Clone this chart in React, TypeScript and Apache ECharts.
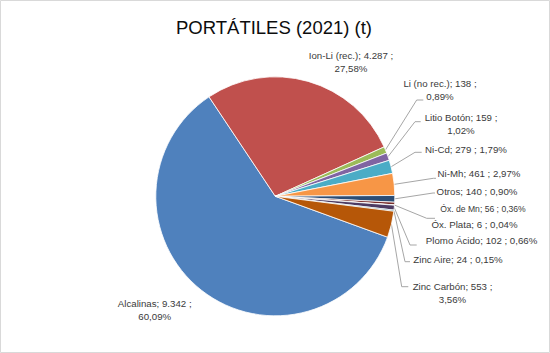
import React, { useEffect, useRef } from "react";
import * as echarts from "echarts";

const TITLE = "PORTÁTILES (2021) (t)";
const categories = [
  "Alcalinas",
  "Ion-Li (rec.)",
  "Li (no rec.)",
  "Litio Botón",
  "Ni-Cd",
  "Ni-Mh",
  "Otros",
  "Óx. de Mn",
  "Óx. Plata",
  "Plomo Ácido",
  "Zinc Aire",
  "Zinc Carbón",
];
const values = [9342, 4287, 138, 159, 279, 461, 140, 56, 6, 102, 24, 553];
// percentages as printed in the source labels
const percents = [60.09, 27.58, 0.89, 1.02, 1.79, 2.97, 0.9, 0.36, 0.04, 0.66, 0.15, 3.56];
const colors = [
  "#4F81BD", "#C0504D", "#9BBB59", "#8064A2", "#4BACC6", "#F79646",
  "#2C4D75", "#772C2A", "#5F7530", "#4D3B62", "#276A7C", "#B65708",
];
// labels broken onto two lines
const twoLine = [0, 1, 2, 3, 11];
// labels without a leader line
const noLeader = [0, 1, 7];

// layout: label centres [x, y]
const labelPos: number[][] = [
  [154.7, 310.3],
  [351, 61.7],
  [440, 90],
  [461, 124.2],
  [466, 149],
  [479, 173.7],
  [477, 191.3],
  [483, 208.7],
  [474.5, 224.3],
  [481.6, 240.7],
  [458, 259.3],
  [452.5, 293.3],
];
// layout: leader elbow [x, y] and end x
const leaders: (number[] | null)[] = [
  null, null,
  [416.7, 100, 423.3],
  [415, 121.7, 420.7],
  [415, 152.3, 421.7],
  [433.3, 178.3, 436],
  [433, 193, 435],
  null,
  [426.7, 218.3, 435],
  [410, 245, 416.7],
  [405, 261.7, 410],
  [401.7, 286.7, 408.3],
];

const fmtValue = (v: number) => String(v).replace(/\B(?=(\d{3})+(?!\d))/g, ".");
const fmtPct = (v: number) => v.toFixed(2).replace(".", ",") + "%";

export default function App() {
  const ref = useRef<HTMLDivElement>(null);
  useEffect(() => {
    document.body.style.margin = "0";
    if (!ref.current) return;
    const chart = echarts.init(ref.current, null, { renderer: "svg" });
    const data = categories.map((name, i) => ({
      name,
      value: values[i],
      itemStyle: { color: colors[i] },
      label: i === 7 ? { fontSize: 8.6 } : {},
      labelLine: { show: noLeader.indexOf(i) < 0 },
    }));
    chart.setOption({
      animation: false,
      backgroundColor: "#ffffff",
      graphic: [
        {
          type: "rect",
          shape: { x: 0.5, y: 0.5, width: 549, height: 352 },
          style: { fill: "none", stroke: "#D9D9D9", lineWidth: 1 },
          silent: true,
        },
        {
          type: "text",
          x: 274,
          y: 27,
          style: {
            text: TITLE,
            fontSize: 18.5,
            fontFamily: "Liberation Sans",
            fill: "#0d0d0d",
            align: "center",
            verticalAlign: "middle",
          },
        },
      ],
      series: [
        {
          type: "pie",
          center: [275.3, 196.3],
          radius: 119.5,
          startAngle: 340,
          clockwise: true,
          avoidLabelOverlap: false,
          minShowLabelAngle: 0,
          itemStyle: { borderColor: "#ffffff", borderWidth: 0.8 },
          label: {
            show: true,
            position: "outside",
            fontFamily: "Liberation Sans",
            fontSize: 9.7,
            lineHeight: 13.3,
            color: "#3a3a3a",
            align: "center",
            formatter: (p: any) => {
              const i = p.dataIndex;
              const head = `${p.name}; ${fmtValue(p.value)} ;`;
              const pct = fmtPct(percents[i]);
              return twoLine.indexOf(i) >= 0 ? `${head}\n${pct}` : `${head} ${pct}`;
            },
          },
          labelLine: {
            show: true,
            length: 10,
            length2: 10,
            lineStyle: { color: "#A6A6A6", width: 1 },
          },
          labelLayout: (params: any) => {
            const i = params.dataIndex;
            const pos = labelPos[i];
            const res: any = {
              x: pos[0],
              y: pos[1],
              align: "center",
              verticalAlign: "middle",
            };
            const g = leaders[i];
            if (g && params.labelLinePoints) {
              res.labelLinePoints = [
                params.labelLinePoints[0],
                [g[0], g[1]],
                [g[2], g[1]],
              ];
            }
            return res;
          },
          data,
        },
      ],
    });
    return () => chart.dispose();
  }, []);
  return <div ref={ref} style={{ width: 550, height: 353 }} />;
}
